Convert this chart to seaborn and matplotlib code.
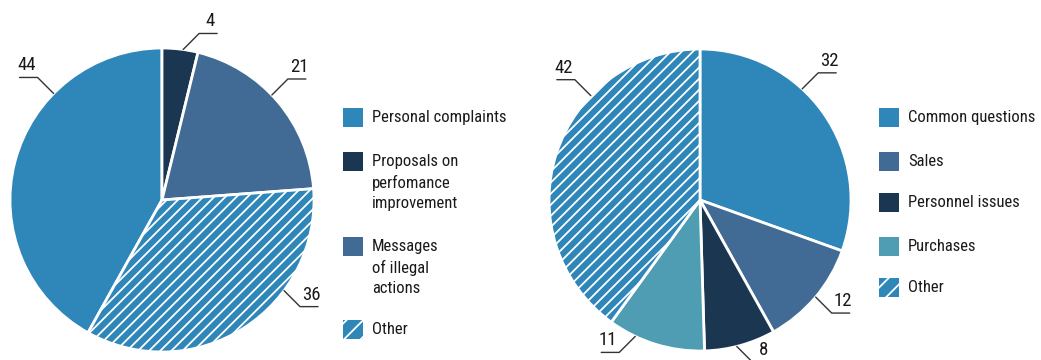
import matplotlib
matplotlib.use("Agg")
import matplotlib.pyplot as plt
from matplotlib.patches import Rectangle
import numpy as np
import seaborn as sns

# data
left_labels = ["Personal complaints", "Proposals on\nperfomance\nimprovement",
               "Messages\nof illegal\nactions", "Other"]
left_values = [44, 4, 21, 36]
right_labels = ["Common questions", "Sales", "Personnel issues", "Purchases", "Other"]
right_values = [32, 12, 8, 11, 42]

# style
BLUE = "#2e86b9"
NAVY = "#1b3650"
STEEL = "#416b94"
TEAL = "#4f9db2"
left_colors = [BLUE, NAVY, STEEL, BLUE]
right_colors = [BLUE, STEEL, NAVY, TEAL, BLUE]
left_hatch = [None, None, None, "///"]
right_hatch = [None, None, None, None, "///"]
# angle where each leader line leaves the pie
left_lead = [135.5, 82, 43.7, -36.6]
right_lead = [47.4, -40, -75.9, -115.4, 136.3]

sns.set_style("white")
plt.rcParams["font.family"] = ["Roboto Condensed", "DejaVu Sans"]
plt.rcParams["font.stretch"] = "condensed"
plt.rcParams["hatch.color"] = "white"
plt.rcParams["hatch.linewidth"] = 1.3
TXT = "#1a1a1a"
W, H = 1041, 360

fig = plt.figure(figsize=(W / 100, H / 100), dpi=100)


def draw_pie(cx, cy, r, values, colors, hatches, lead, start):
    ax = fig.add_axes([(cx - r) / W, (H - cy - r) / H, 2 * r / W, 2 * r / H])
    wedges, _ = ax.pie(values, colors=colors, startangle=start, counterclock=False,
                       radius=1, wedgeprops=dict(edgecolor="white", linewidth=2))
    for w, h in zip(wedges, hatches):
        if h:
            w.set_hatch(h)
    ax.set_xlim(-1, 1)
    ax.set_ylim(-1, 1)
    ax.axis("off")
    d, hl = 16 / r, 18 / r
    for v, a in zip(values, lead):
        t = np.deg2rad(a)
        x0, y0 = np.cos(t), np.sin(t)
        sx, sy = np.sign(x0), np.sign(y0)
        x1, y1 = x0 + sx * d, y0 + sy * d
        x2 = x1 + sx * hl
        ax.plot([x0, x1, x2], [y0, y1, y1], color="#333333", lw=1, clip_on=False)
        ax.text((x1 + x2) / 2 + sx * 2 / r, y1 + 3 / r, str(v), ha="center", va="bottom",
                fontsize=13.5, color=TXT, clip_on=False)
    return ax


def draw_legend(x, y_tops, labels, colors, hatches):
    for yt, lab, c, h in zip(y_tops, labels, colors, hatches):
        fig.add_artist(Rectangle((x / W, 1 - (yt + 19) / H), 20 / W, 19 / H,
                                 transform=fig.transFigure, facecolor=c,
                                 edgecolor="white", linewidth=0,
                                 hatch="//" if h else None))
        for k, line in enumerate(lab.split("\n")):
            fig.text((x + 29) / W, 1 - (yt + 9.5 + 21 * k) / H, line, ha="left",
                     va="center", fontsize=12, color=TXT)


lsum = sum(left_values)
draw_pie(162, 200, 152, left_values, left_colors, left_hatch, left_lead,
         90 + left_values[0] / lsum * 360)
draw_pie(700, 200, 151, right_values, right_colors, right_hatch, right_lead, 90)

draw_legend(343, [108, 152, 237, 320], left_labels, left_colors, left_hatch)
draw_legend(879, [108, 152, 193, 237, 278], right_labels, right_colors, right_hatch)

fig.savefig("out.png", dpi=100, facecolor="white")
